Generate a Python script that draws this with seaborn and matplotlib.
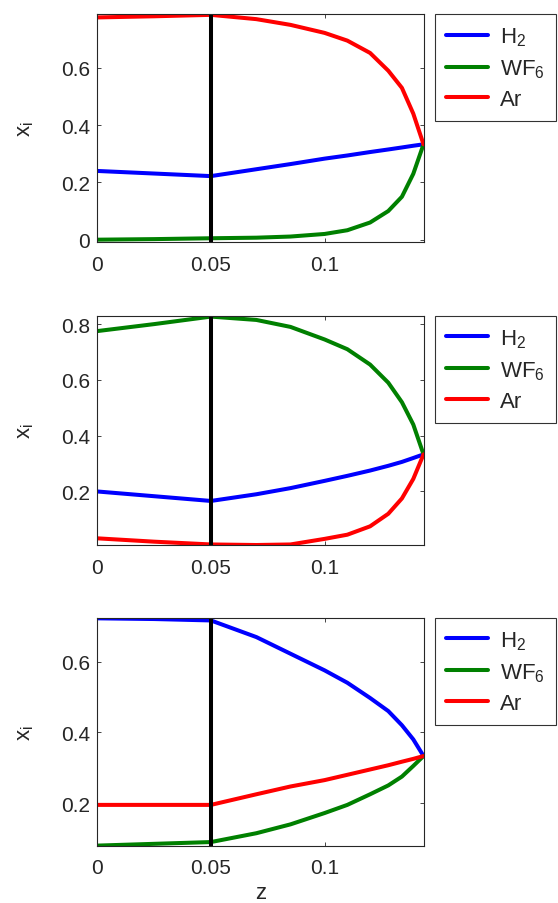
import matplotlib
matplotlib.use("Agg")
import matplotlib.pyplot as plt
import pandas as pd
import seaborn as sns

# axial position, shared by all three panels
z = [0.0, 0.025, 0.05, 0.07, 0.085, 0.1, 0.11, 0.12, 0.128, 0.134, 0.139, 0.1435]
z_split = 0.05

species = ["H$_2$", "WF$_6$", "Ar"]
colors = ["#0000ff", "#008000", "#ff0000"]

# panel 1
h2_a = [0.24, 0.231, 0.222, 0.246, 0.264, 0.283, 0.294, 0.306, 0.315, 0.322, 0.328, 0.333]
wf6_a = [0.0, 0.002, 0.005, 0.007, 0.011, 0.02, 0.033, 0.06, 0.1, 0.15, 0.23, 0.333]
ar_a = [0.776, 0.78, 0.785, 0.77, 0.75, 0.722, 0.695, 0.652, 0.59, 0.53, 0.44, 0.333]

# panel 2
h2_b = [0.2, 0.183, 0.166, 0.19, 0.212, 0.238, 0.256, 0.275, 0.292, 0.306, 0.32, 0.333]
wf6_b = [0.775, 0.8, 0.827, 0.815, 0.79, 0.745, 0.71, 0.655, 0.59, 0.52, 0.44, 0.333]
ar_b = [0.032, 0.02, 0.01, 0.008, 0.01, 0.03, 0.045, 0.075, 0.12, 0.175, 0.245, 0.333]

# panel 3
h2_c = [0.722, 0.72, 0.716, 0.669, 0.622, 0.575, 0.54, 0.497, 0.46, 0.42, 0.38, 0.333]
wf6_c = [0.08, 0.085, 0.09, 0.115, 0.14, 0.172, 0.195, 0.225, 0.25, 0.275, 0.305, 0.333]
ar_c = [0.195, 0.195, 0.195, 0.225, 0.247, 0.265, 0.28, 0.295, 0.307, 0.317, 0.325, 0.333]

panels = [
    ((h2_a, wf6_a, ar_a), (-0.009, 0.787), [0, 0.2, 0.4, 0.6], ["0", "0.2", "0.4", "0.6"]),
    ((h2_b, wf6_b, ar_b), (0.008, 0.829), [0.2, 0.4, 0.6, 0.8], ["0.2", "0.4", "0.6", "0.8"]),
    ((h2_c, wf6_c, ar_c), (0.079, 0.723), [0.2, 0.4, 0.6], ["0.2", "0.4", "0.6"]),
]
xticks = [0, 0.05, 0.1]
xticklabels = ["0", "0.05", "0.1"]

sns.set_style("ticks")
plt.rcParams["font.family"] = ["Liberation Sans", "DejaVu Sans"]
plt.rcParams["mathtext.default"] = "regular"

fig = plt.figure(figsize=(5.58, 9.04), dpi=100)
boxes = [(0.7309, 0.2522), (0.396, 0.2533), (0.0631, 0.2522)]

for i, ((series, ylim, yticks, yticklabels), (bottom, height)) in enumerate(zip(panels, boxes)):
    ax = fig.add_axes([0.1742, bottom, 0.5848, height])
    frame = pd.concat(
        [pd.DataFrame({"z": z, "x": vals, "species": name}) for name, vals in zip(species, series)]
    )
    sns.lineplot(
        data=frame, x="z", y="x", hue="species", hue_order=species,
        palette=colors, linewidth=2.9, ax=ax, legend=False,
    )
    ax.axvline(z_split, color="black", linewidth=2.9)
    ax.set_xlim(0, 0.1435)
    ax.set_ylim(*ylim)
    ax.set_xticks(xticks, xticklabels)
    ax.set_yticks(yticks, yticklabels)
    ax.tick_params(direction="in", top=True, right=True, labelsize=15, length=3, width=0.6)
    ax.tick_params(axis="x", pad=9)
    ax.tick_params(axis="y", pad=5)
    for side in ax.spines.values():
        side.set_linewidth(0.8)
    ax.set_xlabel("")
    ax.set_ylabel(r"x$_{i}$", fontsize=16, labelpad=18)

    handles = [plt.Line2D([], [], color=c, linewidth=2.9) for c in colors]
    leg = ax.legend(
        handles, species, loc="upper left", bbox_to_anchor=(1.035, 1.0),
        frameon=True, fancybox=False, edgecolor="black", fontsize=16,
        handlelength=1.87, handletextpad=0.56, labelspacing=0.42,
        borderpad=0.5, borderaxespad=0,
    )
    leg.get_frame().set_linewidth(0.8)

    if i == len(panels) - 1:
        ax.set_xlabel("z", fontsize=16, labelpad=3)

fig.savefig("out.png", dpi=100)
